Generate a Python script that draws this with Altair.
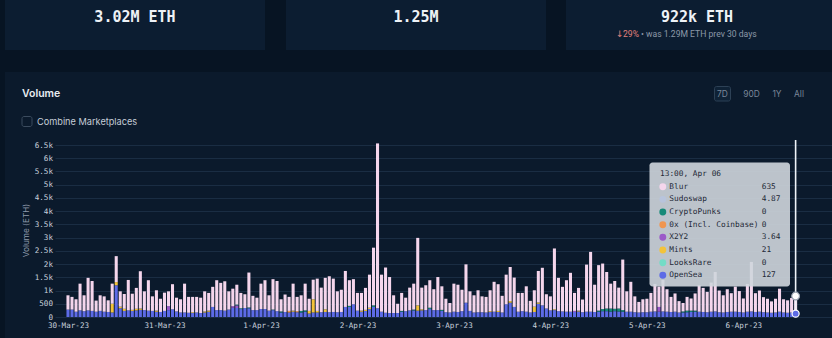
import altair as alt
import pandas as pd
import json

# ---------------- data ----------------
series = ["OpenSea", "LooksRare", "Mints", "X2Y2", "0x (Incl. Coinbase)",
          "CryptoPunks", "Sudoswap", "Blur"]          # bottom -> top of stack
colors = ["#5d6be6", "#73dcc6", "#f3c33a", "#9b59c8", "#f09650",
          "#178a78", "#b8c4dc", "#f5d6ec"]

day_labels = ["30-Mar-23", "31-Mar-23", "1-Apr-23", "2-Apr-23",
              "3-Apr-23", "4-Apr-23", "5-Apr-23", "6-Apr-23"]
y_tick_labels = ["0", "500", "1k", "1.5k", "2k", "2.5k", "3k", "3.5k",
                 "4k", "4.5k", "5k", "5.5k", "6k", "6.5k"]

opensea = [280, 280, 200, 250, 220, 250, 230, 200, 230, 200,
           190, 170, 1200, 330, 230, 250, 230, 250, 270, 260,
           240, 230, 200, 190, 230, 260, 290, 210, 170, 170,
           160, 150, 170, 150, 170, 200, 380, 260, 260, 240,
           280, 350, 340, 300, 340, 330, 260, 260, 300, 300,
           240, 260, 220, 170, 190, 170, 200, 180, 170, 200,
           130, 170, 170, 180, 190, 180, 190, 180, 190, 380,
           380, 480, 240, 200, 230, 300, 380, 330, 200, 160,
           150, 150, 150, 200, 220, 250, 250, 240, 250, 260,
           300, 260, 260, 230, 180, 170, 200, 190, 220, 540,
           230, 170, 180, 180, 170, 190, 200, 190, 170, 480,
           540, 380, 200, 220, 200, 170, 190, 500, 440, 320,
           250, 260, 220, 210, 200, 200, 190, 210, 180, 200,
           200, 190, 200, 220, 220, 200, 220, 210, 200, 200,
           200, 180, 170, 180, 180, 200, 210, 200, 210, 200,
           190, 200, 170, 170, 180, 190, 200, 200, 190, 180,
           200, 210, 180, 170, 190, 200, 200, 190, 170, 200,
           210, 190, 200, 180, 170, 160, 170, 200, 170, 160,
           170, 127]

blur = [540, 480, 470, 1010, 600, 1230, 1130, 420, 590, 580,
        440, 760, 980, 580, 560, 1150, 610, 790, 1410, 710,
        1150, 550, 770, 500, 690, 560, 950, 520, 500, 1090,
        600, 580, 590, 580, 760, 670, 760, 1130, 1030, 1110,
        690, 660, 750, 580, 520, 1320, 540, 470, 960, 1090,
        580, 1150, 1140, 460, 660, 530, 1020, 540, 590, 1010,
        460, 740, 1220, 930, 1190, 1360, 1260, 790, 840, 1360,
        970, 950, 670, 670, 830, 1250, 2180, 6230, 1400, 1710,
        1360, 670, 350, 680, 510, 860, 980, 2550, 820, 940,
        1040, 790, 1250, 890, 510, 360, 1060, 1030, 810, 1450,
        740, 650, 830, 600, 590, 790, 1130, 1010, 630, 1120,
        1290, 1110, 710, 690, 960, 440, 620, 1190, 1420, 540,
        530, 2300, 1260, 930, 1190, 1470, 680, 860, 480, 1780,
        2260, 1030, 1720, 1720, 1380, 940, 1050, 790, 1910, 770,
        1130, 600, 400, 490, 510, 710, 1040, 770, 1190, 850,
        570, 690, 430, 320, 520, 460, 650, 1000, 910, 770,
        1100, 1490, 820, 650, 860, 700, 950, 790, 530, 1050,
        1870, 710, 800, 570, 520, 430, 520, 870, 500, 470,
        550, 635]

# sparse series: hour index -> value
mints = {11: 330, 12: 120, 13: 60, 14: 80, 16: 40, 17: 60, 18: 50, 22: 40,
         31: 30, 34: 40, 35: 40, 56: 40, 60: 100, 61: 500, 62: 60, 64: 100,
         73: 40, 74: 40, 75: 50, 87: 200, 88: 40, 105: 30, 107: 40, 110: 60,
         116: 200, 117: 50, 121: 30, 127: 30, 181: 21}
x2y2 = {25: 150, 41: 60, 42: 100, 126: 40, 147: 180, 181: 3.64}
cryptopunks = {42: 30, 43: 30, 45: 30, 51: 20, 53: 40, 58: 60, 59: 50,
               70: 40, 76: 60, 83: 30, 86: 30, 90: 50, 93: 40, 132: 40,
               133: 80, 134: 100, 135: 120, 136: 90, 137: 110, 138: 60,
               153: 40, 154: 60, 155: 50, 156: 40}
zerox = {55: 60, 57: 40}
sudoswap = {181: 4.87}
looksrare = {}

hover_label = "13:00, Apr 06"
card_values = ["3.02M ETH", "1.25M", "922k ETH"]

# ---------------- build table ----------------
N = len(opensea)
sparse = {"LooksRare": looksrare, "Mints": mints, "X2Y2": x2y2,
          "0x (Incl. Coinbase)": zerox, "CryptoPunks": cryptopunks,
          "Sudoswap": sudoswap}
rows = []
for i in range(N):
    for k, s in enumerate(series):
        if s == "OpenSea":
            v = opensea[i]
        elif s == "Blur":
            v = blur[i]
        else:
            v = sparse[s].get(i, 0)
        rows.append({"i": i, "series": s, "ord": k, "v": v})
df = pd.DataFrame(rows)

last = {r["series"]: r["v"] for r in rows if r["i"] == N - 1}
last_total = sum(last.values())

# ---------------- layout ----------------
LEFT, TOP = 55, 145
W, H = 777, 172
BOTTOM = 338 - TOP - H

BG = "#0b1a2c"
DARK = "#071423"
CARD = "#0c1d31"
MONO = "DejaVu Sans Mono"
SANS = "Inter"

color_scale = alt.Scale(domain=series, range=colors)
xscale = alt.Scale(domain=[-3.23, 190.05], nice=False, zero=False)
yscale = alt.Scale(domain=[0, 6500], nice=False, zero=True)

xaxis = alt.Axis(values=[24 * d for d in range(len(day_labels))],
                 labelExpr=json.dumps(day_labels) + "[round(datum.value / 24)]",
                 title=None, grid=False, ticks=False, domain=False,
                 labelFont=MONO, labelFontSize=7.6, labelColor="#c9d1dc",
                 labelPadding=4, labelFlush=False, labelOverlap=False,
                 labelBound=False)
yaxis = alt.Axis(values=[500 * k for k in range(len(y_tick_labels))],
                 labelExpr=json.dumps(y_tick_labels) + "[round(datum.value / 500)]",
                 title=None, grid=True, gridColor="#1a2d43", gridWidth=1,
                 ticks=False, domain=False, labelFont=MONO, labelFontSize=7.6,
                 labelColor="#c9d1dc", labelPadding=2.5, labelOverlap=False,
                 labelBound=False)

ONE = alt.Data(values=[{"k": 1}])


def box(x0, y0, x1, y1, **kw):
    return alt.Chart(ONE).mark_rect(**kw).encode(
        x=alt.value(x0 - LEFT), x2=alt.value(x1 - LEFT),
        y=alt.value(y0 - TOP), y2=alt.value(y1 - TOP))


def label(x, y, s, size, color, font=SANS, weight="normal", align="left", angle=0):
    return alt.Chart(ONE).mark_text(
        text=s, fontSize=size, color=color, font=font, fontWeight=weight,
        align=align, baseline="middle", angle=angle).encode(
        x=alt.value(x - LEFT), y=alt.value(y - TOP))


layers = []
# page background regions
layers.append(box(0, 0, 832, 72, fill=DARK))
layers.append(box(0, 72, 5, 338, fill=DARK))
for (a, b) in [(5, 265), (286, 546), (566, 832)]:
    layers.append(box(a, 0, b, 50, fill=CARD))
# cards text
for cx, t in zip([135, 416, 697], card_values):
    layers.append(label(cx, 17, t, 15, "#eef2f6", font=MONO, weight="bold", align="center"))
layers.append(label(616, 33.5, "\u2193", 9, "#e0807c", font="DejaVu Sans"))
layers.append(label(623, 33.5, "29%", 8.6, "#e0807c", font="Roboto"))
layers.append(label(641, 33.5, "\u2022 was 1.29M ETH prev 30 days", 8.6, "#8d99a8", font="Roboto"))

# panel header
layers.append(label(22, 93.5, "Volume", 10.5, "#e8edf2", weight=600))
layers.append(box(22, 116.5, 32, 126.5, fillOpacity=0, stroke="#3b4b5e",
                  strokeWidth=1, cornerRadius=2))
layers.append(label(37, 121.5, "Combine Marketplaces", 9.2, "#c5cdd7"))
layers.append(box(714.5, 86.5, 730.5, 101, fill="#0f2236", stroke="#2d4156",
                  strokeWidth=1, cornerRadius=2))
for cx, t in zip([722.5, 751.5, 777, 799], ["7D", "90D", "1Y", "All"]):
    layers.append(label(cx, 94, t, 8.4, "#7a8799", align="center"))

# y title
layers.append(label(27, 230.5, "Volume (ETH)", 8.2, "#8f9bab", angle=270, align="center"))

# bars
bars = alt.Chart(df).transform_stack(
    stack="v", groupby=["i"], as_=["y0", "y1"],
    sort=[alt.SortField("ord", order="ascending")]
).transform_calculate(
    xa="datum.i - 0.38", xb="datum.i + 0.38"
).mark_bar(strokeWidth=0).encode(
    x=alt.X("xa:Q", scale=xscale, axis=xaxis),
    x2="xb:Q",
    y=alt.Y("y0:Q", scale=yscale, axis=yaxis),
    y2="y1:Q",
    color=alt.Color("series:N", scale=color_scale, legend=None),
)
layers.append(bars)

# hover line + markers on the last bar
pt = pd.DataFrame({"i": [N - 1], "top": [last_total], "os": [last["OpenSea"]]})
layers.append(alt.Chart(pt).mark_rule(color="#eef3f8", strokeWidth=1.6).encode(
    x=alt.X("i:Q", scale=xscale, axis=xaxis),
    y=alt.value(140 - TOP), y2=alt.value(H)))
layers.append(alt.Chart(pt).mark_point(shape="circle", filled=True, fill="#ffffff",
                                       stroke="#9aa4b2", strokeWidth=1.2, size=60,
                                       opacity=1).encode(
    x=alt.X("i:Q", scale=xscale, axis=xaxis),
    y=alt.Y("top:Q", scale=yscale, axis=yaxis)))
layers.append(alt.Chart(pt).mark_point(shape="circle", filled=True, fill="#5d6be6",
                                       stroke="#ffffff", strokeWidth=1.2, size=50,
                                       opacity=1).encode(
    x=alt.X("i:Q", scale=xscale, axis=xaxis),
    y=alt.Y("os:Q", scale=yscale, axis=yaxis)))

# tooltip
layers.append(box(649.5, 162.5, 790, 286.5, fill="#cfd6dd", opacity=0.9, cornerRadius=3))
layers.append(label(660, 174.3, hover_label, 7.8, "#1f2937", font=MONO))
tt_rows = []
for k, s in enumerate(reversed(series)):
    tt_rows.append({"series": s, "ty": 186.7 + 12.66 * k - TOP,
                    "val": f"{last[s]:g}"})
tt = pd.DataFrame(tt_rows)
layers.append(alt.Chart(tt).mark_circle(size=48, opacity=1).encode(
    x=alt.value(662.8 - LEFT), y=alt.Y("ty:Q", scale=None),
    color=alt.Color("series:N", scale=color_scale, legend=None)))
layers.append(alt.Chart(tt).mark_text(font=MONO, fontSize=7.8, color="#1f2937",
                                      align="left", baseline="middle").encode(
    x=alt.value(669.3 - LEFT), y=alt.Y("ty:Q", scale=None), text="series:N"))
layers.append(alt.Chart(tt).mark_text(font=MONO, fontSize=7.8, color="#1f2937",
                                      align="left", baseline="middle").encode(
    x=alt.value(761.7 - LEFT), y=alt.Y("ty:Q", scale=None), text="val:N"))

chart = alt.layer(*layers).properties(
    width=W, height=H,
    padding={"left": LEFT, "top": TOP, "right": 0, "bottom": BOTTOM},
    autosize=alt.AutoSizeParams(type="none"),
    background=BG,
).configure_view(stroke=None)

chart.save("out.html", embed_options={"renderer": "svg", "actions": False})
